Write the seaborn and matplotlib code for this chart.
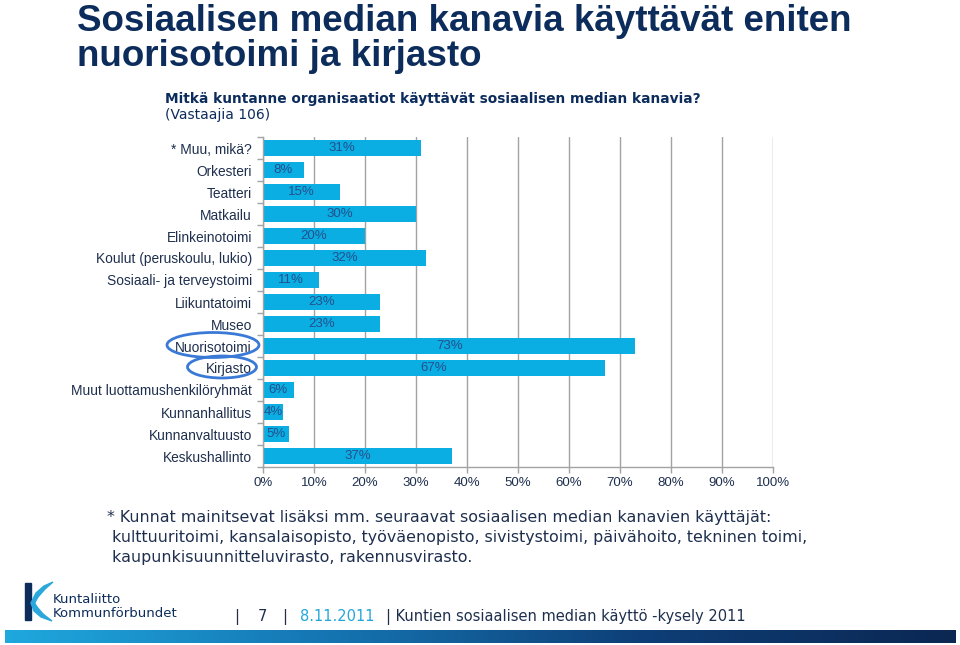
import numpy as np
import pandas as pd
import matplotlib
matplotlib.use('Agg')
from matplotlib import pyplot as plt
from matplotlib.patches import Ellipse, Polygon
from matplotlib.colors import LinearSegmentedColormap
import seaborn as sns

categories = ['* Muu, mikä?', 'Orkesteri', 'Teatteri', 'Matkailu', 'Elinkeinotoimi',
              'Koulut (peruskoulu, lukio)', 'Sosiaali- ja terveystoimi', 'Liikuntatoimi',
              'Museo', 'Nuorisotoimi', 'Kirjasto', 'Muut luottamushenkilöryhmät',
              'Kunnanhallitus', 'Kunnanvaltuusto', 'Keskushallinto']
shares = [31, 8, 15, 30, 20, 32, 11, 23, 23, 73, 67, 6, 4, 5, 37]
x_ticks = list(range(0, 101, 10))
x_tick_labels = [f'{t}%' for t in x_ticks]

df = pd.DataFrame({'Organisaatio': categories, 'Osuus': shares})

NAVY = '#0c2c5c'
LABEL = '#1e2f4e'
BAR = '#0aaee3'
GRID = '#a3a3a3'

sns.set_theme(style='white')
plt.rcParams['font.family'] = ['Liberation Sans', 'DejaVu Sans']
DJ = ['DejaVu Sans']

W, H = 960, 645
fig = plt.figure(figsize=(9.6, 6.45), dpi=100)
fig.patch.set_facecolor('white')

# main chart (pixel positions)
ax = fig.add_axes([263 / W, 1 - 467 / H, (773 - 263) / W, (467 - 137) / H])
sns.barplot(data=df, x='Osuus', y='Organisaatio', orient='h', color=BAR,
            saturation=1, width=0.72, linewidth=0, ax=ax)
ax.bar_label(ax.containers[0], labels=[f'{v}%' for v in shares], label_type='center',
             color='#23508c', fontsize=9.5)

ax.set_xlim(0, 100)
ax.set_ylim(len(categories) - 0.5, -0.5)
ax.set_xticks(x_ticks)
ax.set_xticklabels(x_tick_labels, fontsize=9.5, color=LABEL)
ax.set_yticks(range(len(categories)))
ax.set_yticklabels(categories, fontsize=9.9, color=LABEL)
ax.set_yticks(np.arange(-0.5, len(categories), 1), minor=True)
ax.tick_params(axis='y', which='major', length=0, pad=8)
ax.tick_params(axis='y', which='minor', length=4, color=GRID, width=1, direction='out', left=True)
ax.tick_params(axis='x', length=4, color=GRID, width=1, direction='out', bottom=True, pad=3)
ax.set_xlabel('')
ax.set_ylabel('')
ax.xaxis.grid(True, color=GRID, lw=1)
ax.set_axisbelow(True)
for side in ['top', 'right']:
    ax.spines[side].set_visible(False)
for side in ['left', 'bottom']:
    ax.spines[side].set_color(GRID)
    ax.spines[side].set_linewidth(1)

# highlight ellipses
for cx, cy, ew, eh in [(213, 345, 92, 25), (222, 367, 69, 22)]:
    fig.patches.append(Ellipse((cx / W, 1 - cy / H), ew / W, eh / H, transform=fig.transFigure,
                               fill=False, edgecolor='#3a7ad6', lw=2))

# title and texts
fig.text(77 / W, 1 - 31 / H, 'Sosiaalisen median kanavia käyttävät eniten', fontsize=26.5,
         fontweight='bold', color=NAVY, va='baseline')
fig.text(77 / W, 1 - 66 / H, 'nuorisotoimi ja kirjasto', fontsize=26.5,
         fontweight='bold', color=NAVY, va='baseline')
fig.text(165 / W, 1 - 103 / H, 'Mitkä kuntanne organisaatiot käyttävät sosiaalisen median kanavia?',
         fontsize=9.9, fontweight='bold', color=NAVY, va='baseline', family=DJ)
fig.text(165 / W, 1 - 119 / H, '(Vastaajia 106)', fontsize=10, color=NAVY, va='baseline', family=DJ)

notes = ['* Kunnat mainitsevat lisäksi mm. seuraavat sosiaalisen median kanavien käyttäjät:',
         ' kulttuuritoimi, kansalaisopisto, työväenopisto, sivistystoimi, päivähoito, tekninen toimi,',
         ' kaupunkisuunnitteluvirasto, rakennusvirasto.']
for i, line in enumerate(notes):
    fig.text(107 / W, 1 - (522 + 20 * i) / H, line, fontsize=11.4, color=LABEL,
             va='baseline', family=DJ)

# footer
fy = 1 - 621 / H
fig.text(234 / W, fy, '|', fontsize=10.5, color=LABEL, va='baseline', family=DJ)
fig.text(258 / W, fy, '7', fontsize=10.5, color=LABEL, va='baseline', family=DJ)
fig.text(282 / W, fy, '|', fontsize=10.5, color=LABEL, va='baseline', family=DJ)
fig.text(300 / W, fy, '8.11.2011', fontsize=10.5, color='#23a6d9', va='baseline', family=DJ)
fig.text(386 / W, fy, '| Kuntien sosiaalisen median käyttö -kysely 2011', fontsize=10.5,
         color=LABEL, va='baseline', family=DJ)

# logo
lax = fig.add_axes([0, 1 - 645 / H, 1, 75 / H])
lax.set_xlim(0, W)
lax.set_ylim(645, 570)
lax.axis('off')
lax.add_patch(Polygon([[25, 583], [31, 583], [31, 620], [25, 620]], color='#0c2c5c'))
lax.add_patch(Polygon([[31, 603], [36, 593], [44, 586], [53, 582], [45, 589], [38, 597], [34, 604]],
                      color='#2aa8dc'))
lax.add_patch(Polygon([[31, 603], [34, 611], [41, 617], [52, 621], [43, 614], [37, 607], [34, 602]],
                      color='#2aa8dc'))
lax.text(53, 603, 'Kuntaliitto', fontsize=9.5, color=NAVY, va='baseline', family=DJ)
lax.text(53, 617, 'Kommunförbundet', fontsize=9.5, color=NAVY, va='baseline', family=DJ)

# gradient band
gax = fig.add_axes([5 / W, 1 - 643 / H, 950 / W, 13 / H])
cmap = LinearSegmentedColormap.from_list('band', ['#1fa8de', '#1576b3', '#0e3f78', '#0b2752'])
gax.imshow(np.linspace(0, 1, 256)[None, :], aspect='auto', cmap=cmap)
gax.axis('off')

fig.savefig('out.png', dpi=100)
